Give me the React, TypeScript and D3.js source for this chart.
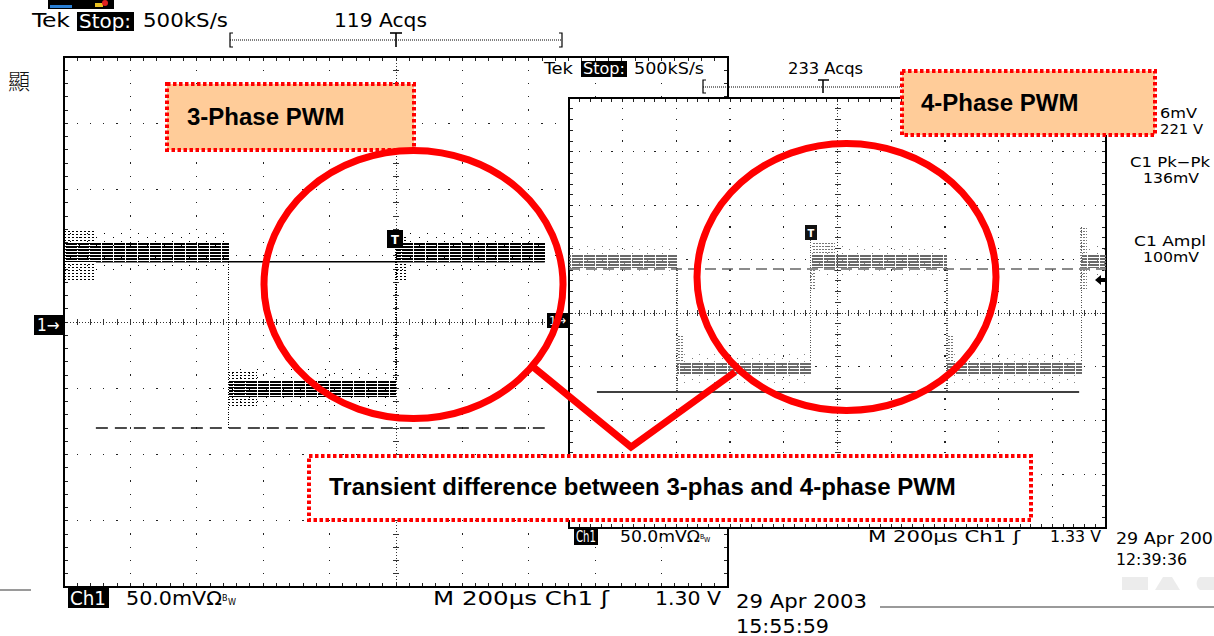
import React from 'react';
import * as d3 from 'd3';

const TEK_FONT = "'DejaVu Sans Condensed','Liberation Sans Narrow','DejaVu Sans',sans-serif";
const BOLD_FONT = "'Liberation Sans',Arial,Helvetica,sans-serif";

// ---------- scope frames (divisions 10 x 8) ----------
const LEFT = { x0: 64, y0: 57, w: 664, h: 530 };
const RIGHT = { x0: 569, y0: 98, w: 537, h: 430 };

// ---------- 3-phase PWM waveform (left scope, in divisions) ----------
const leftEdges = [0, 2.48, 5.0, 7.24];
const leftState = [1, 0, 1];
const leftHigh = [0.91, 1.19];
const leftLow = [-1.13, -0.87];
const leftRef = { from: 0.48, to: 7.24, level: 0.91 };
const leftDash = { from: 0.48, to: 7.24, level: -1.6 };
const leftTransients = [
  { t0: 0, t1: 0.45, lo: 0.6, hi: 1.4 },
  { t0: 2.48, t1: 2.9, lo: -1.28, hi: -0.76 },
  { t0: 5.0, t1: 5.15, lo: 0.62, hi: 1.32 },
];
const leftEdgeLines = [
  { t: 2.48, lo: -1.6, hi: 0.91 },
  { t: 5.0, lo: -0.87, hi: 1.25 },
];

// ---------- 4-phase PWM waveform (right scope, in divisions) ----------
const rightEdges = [0, 2.01, 4.5, 7.04, 9.55, 10];
const rightState = [1, 0, 1, 0, 1];
const rightHigh = [0.84, 1.1];
const rightLow = [-1.15, -0.91];
const rightRef = { from: 0.52, to: 9.5, level: -1.47 };
const rightDash = { from: 0, to: 10, level: 0.82 };
const rightTransients = [
  { t0: 2.01, t1: 2.12, lo: -0.95, hi: -0.4 },
  { t0: 4.47, t1: 4.6, lo: 0.42, hi: 0.84 },
  { t0: 4.55, t1: 4.95, lo: 1.1, hi: 1.32 },
  { t0: 7.04, t1: 7.15, lo: -0.95, hi: -0.4 },
  { t0: 9.52, t1: 9.65, lo: 0.42, hi: 1.6 },
];
const rightEdgeLines = [
  { t: 2.01, lo: -1.47, hi: 0.84 },
  { t: 4.5, lo: -0.91, hi: 1.5 },
  { t: 7.04, lo: -1.47, hi: 0.84 },
  { t: 9.55, lo: -0.9, hi: 1.6 },
];

// ---------- labels ----------
const leftHeader = ['Tek', 'Stop:', '500kS/s', '119 Acqs'];
const rightHeader = ['Tek', 'Stop:', '500kS/s', '233 Acqs'];
const leftFooter = ['Ch1', '50.0mVΩ', 'M  200µs  Ch1  ʃ', '1.30 V'];
const rightFooter = ['Ch1', '50.0mVΩ', 'M  200µs  Ch1  ʃ', '1.33 V'];
const leftStamp = ['29 Apr 2003', '15:55:59'];
const rightStamp = ['29 Apr 2003', '12:39:36'];
const measurements = ['6mV', '221 V', 'C1 Pk−Pk', '136mV', 'C1 Ampl', '100mV'];
const annotations = ['3-Phase PWM', '4-Phase PWM', 'Transient difference between 3-phas and 4-phase PWM'];

type Box = { x0: number; y0: number; w: number; h: number };

function scales(box: Box) {
  const xs = d3.scaleLinear().domain([0, 10]).range([box.x0, box.x0 + box.w]);
  const ys = d3.scaleLinear().domain([-4, 4]).range([box.y0 + box.h, box.y0]);
  return { xs, ys };
}

function Graticule({ box, bg }: { box: Box; bg?: boolean }) {
  const { xs, ys } = scales(box);
  const minorX = d3.range(1, 50).map((i) => i / 5);
  const minorY = d3.range(1, 40).map((i) => i / 5 - 4);
  const majorX = [1, 2, 3, 4, 6, 7, 8, 9];
  const majorY = [-3, -2, -1, 1, 2, 3];
  const d = 1.3;
  return (
    <g shapeRendering="crispEdges">
      {bg && <rect x={box.x0} y={box.y0} width={box.w} height={box.h} fill="#fff" />}
      {majorX.flatMap((mx) =>
        minorY.map((my) => (
          <rect key={`v${mx}_${my}`} x={xs(mx) - 0.65} y={ys(my) - 0.65} width={d} height={d} fill="#222" />
        ))
      )}
      {majorY.flatMap((my) =>
        minorX.map((mx) => (
          <rect key={`h${my}_${mx}`} x={xs(mx) - 0.65} y={ys(my) - 0.65} width={d} height={d} fill="#222" />
        ))
      )}
      <line x1={xs(5)} x2={xs(5)} y1={box.y0} y2={box.y0 + box.h} stroke="#333" strokeWidth={1} strokeDasharray="1 2" />
      <line x1={box.x0} x2={box.x0 + box.w} y1={ys(0)} y2={ys(0)} stroke="#333" strokeWidth={1} strokeDasharray="1 2" />
      {minorY.map((my) => (
        <line key={`cy${my}`} x1={xs(5) - 3} x2={xs(5) + 3} y1={ys(my)} y2={ys(my)} stroke="#333" strokeWidth={1} />
      ))}
      {minorX.map((mx) => (
        <line key={`cx${mx}`} x1={xs(mx)} x2={xs(mx)} y1={ys(0) - 3} y2={ys(0) + 3} stroke="#333" strokeWidth={1} />
      ))}
      {minorX.map((mx) => (
        <g key={`tx${mx}`}>
          <line x1={xs(mx)} x2={xs(mx)} y1={box.y0} y2={box.y0 + 4} stroke="#222" strokeWidth={1} />
          <line x1={xs(mx)} x2={xs(mx)} y1={box.y0 + box.h - 4} y2={box.y0 + box.h} stroke="#222" strokeWidth={1} />
        </g>
      ))}
      {minorY.map((my) => (
        <g key={`ty${my}`}>
          <line x1={box.x0} x2={box.x0 + 4} y1={ys(my)} y2={ys(my)} stroke="#222" strokeWidth={1} />
          <line x1={box.x0 + box.w - 4} x2={box.x0 + box.w} y1={ys(my)} y2={ys(my)} stroke="#222" strokeWidth={1} />
        </g>
      ))}
      <rect x={box.x0} y={box.y0} width={box.w} height={box.h} fill="none" stroke="#000" strokeWidth={1.6} />
    </g>
  );
}

function Waveform({
  box, edges, state, high, low, transients, edgeLines, ink, stripe, fringe, burst,
}: any) {
  const { xs, ys } = scales(box);
  const segs = state.map((s: number, i: number) => ({ t0: edges[i], t1: edges[i + 1], band: s ? high : low }));
  return (
    <g shapeRendering="crispEdges">
      {edgeLines.map((e: any, i: number) => (
        <line key={`e${i}`} x1={xs(e.t)} x2={xs(e.t)} y1={ys(e.hi)} y2={ys(e.lo)} stroke={ink} strokeWidth={1.2} strokeDasharray="1 1.5" />
      ))}
      {segs.map((s: any, i: number) => (
        <g key={`s${i}`}>
          <rect x={xs(s.t0)} width={xs(s.t1) - xs(s.t0)} y={ys(s.band[1] + 0.18)} height={ys(s.band[0] - 0.16) - ys(s.band[1] + 0.18)} fill={`url(#${fringe})`} />
          <rect x={xs(s.t0)} width={xs(s.t1) - xs(s.t0)} y={ys(s.band[1])} height={ys(s.band[0]) - ys(s.band[1])} fill={`url(#${stripe})`} />
        </g>
      ))}
      {transients.map((t: any, i: number) => (
        <rect key={`t${i}`} x={xs(t.t0)} width={xs(t.t1) - xs(t.t0)} y={ys(t.hi)} height={ys(t.lo) - ys(t.hi)} fill={`url(#${burst})`} />
      ))}
    </g>
  );
}

function Inverse({ x, y, w, h, text, size, tl }: any) {
  return (
    <g>
      <rect x={x} y={y} width={w} height={h} fill="#000" />
      <text x={x + 2} y={y + h - 3} fill="#fff" fontFamily={TEK_FONT} fontSize={size} textLength={tl} lengthAdjust="spacingAndGlyphs">{text}</text>
    </g>
  );
}

function T({ x, y, text, size, tl, fill = '#000' }: any) {
  return (
    <text x={x} y={y} fontFamily={TEK_FONT} fontSize={size} fill={fill} textLength={tl} lengthAdjust="spacingAndGlyphs">{text}</text>
  );
}

export default function App() {
  const L = scales(LEFT);
  const R = scales(RIGHT);
  return (
    <div style={{ position: 'absolute', left: 0, top: 0 }}>
      <svg width={1214} height={636} viewBox="0 0 1214 636" style={{ display: 'block', background: '#fff' }}>
        <defs>
          <pattern id="stripeK" width="12" height="3" patternUnits="userSpaceOnUse">
            <rect x="0" y="0" width="12" height="2" fill="#000" />
            <rect x="5" y="0" width="1" height="2" fill="#fff" />
          </pattern>
          <pattern id="stripeG" width="12" height="3" patternUnits="userSpaceOnUse">
            <rect x="0" y="0" width="12" height="2" fill="#6a6a6a" />
            <rect x="7" y="0" width="1" height="2" fill="#fff" />
          </pattern>
          <pattern id="fringeK" width="17" height="8" patternUnits="userSpaceOnUse">
            <rect x="2" y="1" width="1" height="1" fill="#000" />
            <rect x="11" y="5" width="1" height="1" fill="#000" />
          </pattern>
          <pattern id="fringeG" width="15" height="7" patternUnits="userSpaceOnUse">
            <rect x="2" y="1" width="1" height="1" fill="#777" />
            <rect x="9" y="4" width="1" height="1" fill="#888" />
          </pattern>
          <pattern id="burstK" width="4" height="3" patternUnits="userSpaceOnUse">
            <rect x="0" y="0" width="2" height="1" fill="#000" />
          </pattern>
          <pattern id="burstG" width="3" height="3" patternUnits="userSpaceOnUse">
            <rect x="0" y="0" width="2" height="1" fill="#777" />
          </pattern>
        </defs>

        {/* top-left icon & stray char */}
        <rect x={48} y={0} width={66} height={9} fill="#000" />
        <rect x={50} y={5} width={22} height={3} fill="#2a7fd4" />
        <rect x={95} y={3} width={8} height={4} fill="#e8c020" />
        <circle cx={105} cy={3} r={3} fill="#e02020" />
        <text x={8} y={89} fontFamily="'Noto Sans CJK TC','Noto Sans CJK SC',serif" fontWeight={300} fontSize={22} fill="#111">顯</text>

        {/* ===== Left scope (3-phase) ===== */}
        <T x={32} y={27} text={leftHeader[0]} size={19} tl={38} />
        <Inverse x={77} y={12} w={57} h={19} text={leftHeader[1]} size={19} tl={52} />
        <T x={143} y={27} text={leftHeader[2]} size={19} tl={85} />
        <T x={334} y={27} text={leftHeader[3]} size={19} tl={93} />
        <g stroke="#000" fill="none" strokeWidth={1.2}>
          <path d="M233,33 L230,33 L230,47 L233,47" />
          <path d="M559,33 L562,33 L562,47 L559,47" />
          <line x1={230} x2={562} y1={40} y2={40} strokeDasharray="1 1" />
          <line x1={390} x2={402} y1={33} y2={33} strokeWidth={1.6} />
          <line x1={396} x2={396} y1={33} y2={47} strokeWidth={1.6} />
        </g>

        <Graticule box={LEFT} />
        <line x1={L.xs(leftRef.from)} x2={L.xs(leftRef.to)} y1={L.ys(leftRef.level)} y2={L.ys(leftRef.level)} stroke="#000" strokeWidth={1.6} />
        <line x1={L.xs(leftDash.from)} x2={L.xs(leftDash.to)} y1={L.ys(leftDash.level)} y2={L.ys(leftDash.level)} stroke="#111" strokeWidth={1.6} strokeDasharray="12 7" />
        <Waveform box={LEFT} edges={leftEdges} state={leftState} high={leftHigh} low={leftLow}
          transients={leftTransients} edgeLines={leftEdgeLines} ink="#000" stripe="stripeK" fringe="fringeK" burst="burstK" />
        {/* trigger marker */}
        <rect x={387} y={230} width={16} height={18} fill="#000" />
        <text x={395} y={244} fill="#fff" fontFamily={TEK_FONT} fontSize={13} fontWeight="bold" textAnchor="middle">T</text>
        {/* channel marker */}
        <rect x={34} y={315} width={29} height={20} fill="#000" />
        <text x={37} y={331} fill="#fff" fontFamily={TEK_FONT} fontSize={17}>1→</text>

        {/* left footer */}
        <Inverse x={68} y={588} w={41} h={20} text={leftFooter[0]} size={20} tl={36} />
        <T x={126} y={605} text={leftFooter[1]} size={20} tl={96} />
        <text x={222} y={601} fontFamily={TEK_FONT} fontSize={9}>B</text>
        <text x={228} y={605} fontFamily={TEK_FONT} fontSize={9}>W</text>
        <T x={433} y={605} text={leftFooter[2]} size={20} tl={176} />
        <T x={655} y={605} text={leftFooter[3]} size={20} tl={66} />
        <T x={736} y={608} text={leftStamp[0]} size={19} tl={131} />
        <T x={736} y={633} text={leftStamp[1]} size={19} tl={93} />
        <line x1={0} x2={31} y1={590} y2={590} stroke="#9a9a9a" strokeWidth={2} />
        <line x1={880} x2={1214} y1={607} y2={607} stroke="#9a9a9a" strokeWidth={2} />

        {/* ===== Right scope (4-phase) ===== */}
        <T x={544} y={74} text={rightHeader[0]} size={16} tl={29} />
        <Inverse x={581} y={61} w={46} h={16} text={rightHeader[1]} size={15} tl={42} />
        <T x={634} y={74} text={rightHeader[2]} size={16} tl={70} />
        <T x={788} y={74} text={rightHeader[3]} size={16} tl={75} />
        <g stroke="#000" fill="none" strokeWidth={1.2}>
          <path d="M706,80 L703,80 L703,93 L706,93" />
          <line x1={703} x2={905} y1={87} y2={87} strokeDasharray="1 1" />
          <line x1={818} x2={829} y1={80} y2={80} strokeWidth={1.5} />
          <line x1={823} x2={823} y1={80} y2={93} strokeWidth={1.5} />
        </g>

        <Graticule box={RIGHT} bg />
        <line x1={R.xs(rightDash.from)} x2={R.xs(rightDash.to)} y1={R.ys(rightDash.level)} y2={R.ys(rightDash.level)} stroke="#666" strokeWidth={1.6} strokeDasharray="11 6" />
        <line x1={R.xs(rightRef.from)} x2={R.xs(rightRef.to)} y1={R.ys(rightRef.level)} y2={R.ys(rightRef.level)} stroke="#000" strokeWidth={1.4} />
        <Waveform box={RIGHT} edges={rightEdges} state={rightState} high={rightHigh} low={rightLow}
          transients={rightTransients} edgeLines={rightEdgeLines} ink="#555" stripe="stripeG" fringe="fringeG" burst="burstG" />
        <rect x={805} y={225} width={12} height={15} fill="#111" />
        <text x={811} y={237} fill="#fff" fontFamily={TEK_FONT} fontSize={11} fontWeight="bold" textAnchor="middle">T</text>
        <rect x={547} y={313} width={22} height={15} fill="#000" />
        <text x={549} y={325} fill="#fff" fontFamily={TEK_FONT} fontSize={13}>1→</text>
        <path d="M1095,280 L1101,275 L1101,278 L1106,278 L1106,282 L1101,282 L1101,285 Z" fill="#000" />

        {/* right footer */}
        <Inverse x={574} y={529} w={24} h={16} text={rightFooter[0]} size={15} tl={20} />
        <T x={620} y={542} text={rightFooter[1]} size={15} tl={80} />
        <text x={700} y={539} fontFamily={TEK_FONT} fontSize={7}>B</text>
        <text x={704} y={542} fontFamily={TEK_FONT} fontSize={7}>W</text>
        <T x={868} y={542} text={rightFooter[2]} size={15} tl={152} />
        <T x={1050} y={542} text={rightFooter[3]} size={16} tl={51} />
        <T x={1116} y={544} text={rightStamp[0]} size={15} tl={108} />
        <T x={1116} y={565} text={rightStamp[1]} size={15} tl={71} />

        {/* measurement readouts */}
        <T x={1160} y={118} text={measurements[0]} size={14} tl={37} />
        <T x={1160} y={134} text={measurements[1]} size={14} tl={43} />
        <T x={1130} y={167} text={measurements[2]} size={14} tl={80} />
        <T x={1143} y={183} text={measurements[3]} size={14} tl={56} />
        <T x={1134} y={246} text={measurements[4]} size={14} tl={72} />
        <T x={1143} y={262} text={measurements[5]} size={14} tl={56} />

        {/* faint logo bottom right */}
        <g fill="#ececec">
          <rect x={1122} y={577} width={26} height={13} />
          <path d="M1155,590 L1163,577 L1172,577 L1180,590 Z" />
          <path d="M1214,577 L1200,577 A8,8 0 0 0 1200,590 L1214,590 Z" />
        </g>

        {/* ===== annotations ===== */}
        <rect x={167} y={84} width={247} height={66} fill="#FFCC99" stroke="#FF0000" strokeWidth={4} strokeDasharray="3.5 2.5" />
        <text x={187} y={125} fontFamily={BOLD_FONT} fontWeight="bold" fontSize={24} fill="#000">{annotations[0]}</text>

        <rect x={902} y={71} width={253} height={64} fill="#FFCC99" stroke="#FF0000" strokeWidth={4} strokeDasharray="3.5 2.5" />
        <text x={921} y={111} fontFamily={BOLD_FONT} fontWeight="bold" fontSize={24} fill="#000">{annotations[1]}</text>

        <ellipse cx={413.5} cy={284.5} rx={149.5} ry={134} fill="none" stroke="#FF0000" strokeWidth={7} />
        <ellipse cx={846.5} cy={277} rx={149.5} ry={133.5} fill="none" stroke="#FF0000" strokeWidth={7} />
        <polyline points="532,366 631,447 735,372" fill="none" stroke="#FF0000" strokeWidth={7} strokeLinejoin="miter" />

        <rect x={309} y={456} width={722} height={64} fill="#fff" stroke="#FF0000" strokeWidth={4} strokeDasharray="3.5 2.5" />
        <text x={329} y={495} fontFamily={BOLD_FONT} fontWeight="bold" fontSize={24} fill="#000">{annotations[2]}</text>
      </svg>
    </div>
  );
}
